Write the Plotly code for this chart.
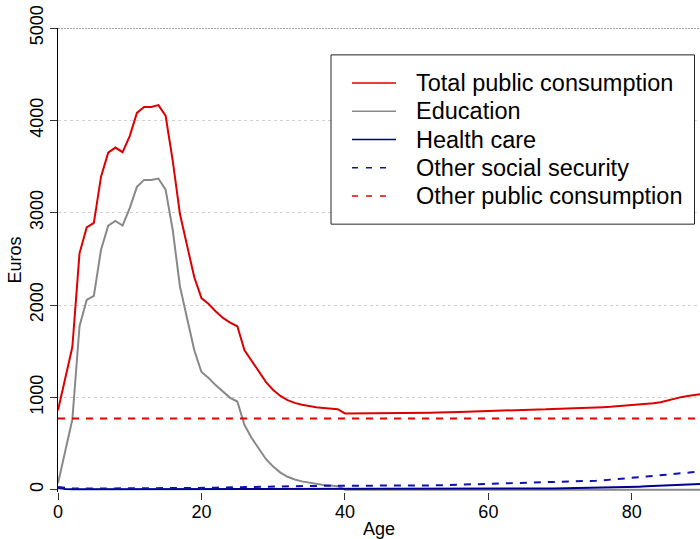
import plotly.graph_objects as go

# Per-capita public consumption by age (euros)
ages = list(range(0, 91))

total_public = [
    860, 1200, 1545, 2560, 2840, 2890, 3390, 3650, 3705, 3655,
    3830, 4080, 4145, 4145, 4165, 4050, 3560, 2985, 2630, 2300,
    2075, 2010, 1930, 1860, 1810, 1770, 1510, 1390, 1270, 1165,
    1080, 1015, 970, 940, 920, 905, 893, 885, 877, 872,
    826, 826, 826, 827, 827, 828, 830, 828, 830, 832,
    830, 832, 834, 835, 840, 845, 842, 845, 848, 851,
    854, 857, 860, 863, 865, 866, 867, 869, 870, 872,
    874, 876, 879, 882, 886, 890, 894, 898, 903, 909,
    915, 920, 926, 935, 948, 968, 988, 1005, 1018, 1030,
    1040,
]

education = [
    70, 410, 760, 1770, 2055, 2100, 2600, 2860, 2910, 2860,
    3050, 3280, 3355, 3355, 3370, 3250, 2810, 2200, 1850, 1510,
    1275, 1210, 1130, 1060, 995, 955, 700, 560, 440, 330,
    250, 185, 140, 110, 90, 75, 62, 52, 45, 38,
    0, 0, 0, 0, 0, 0, 0, 0, 0, 0,
    0, 0, 0, 0, 0, 0, 0, 0, 0, 0,
    0, 0, 0, 0, 0, 0, 0, 0, 0, 0,
    0, 0, 0, 0, 0, 0, 0, 0, 0, 0,
    0, 0, 0, 0, 0, 0, 0, 0, 0, 0,
    0,
]

health_care = [
    20, 8, 5, 5, 5, 5, 5, 5, 5, 5,
    5, 5, 5, 5, 5, 5, 5, 5, 5, 5,
    5, 5, 5, 5, 5, 5, 5, 5, 5, 5,
    5, 5, 5, 5, 5, 5, 5, 5, 5, 5,
    5, 5, 5, 5, 5, 5, 5, 5, 5, 5,
    6, 6, 6, 6, 6, 7, 7, 7, 8, 8,
    8, 9, 9, 10, 10, 10, 11, 12, 13, 14,
    15, 16, 17, 18, 19, 20, 22, 25, 27, 29,
    31, 33, 36, 40, 43, 46, 49, 52, 55, 59,
    62,
]

other_social_security = [
    30, 18, 14, 12, 12, 12, 12, 12, 12, 12,
    12, 12, 12, 12, 12, 12, 13, 14, 15, 16,
    18, 20, 22, 24, 26, 28, 30, 31, 32, 34,
    35, 36, 37, 38, 39, 40, 41, 41, 42, 42,
    43, 43, 43, 43, 43, 43, 43, 43, 43, 43,
    43, 44, 45, 47, 50, 52, 54, 56, 58, 61,
    63, 66, 68, 70, 71, 72, 74, 76, 78, 79,
    80, 83, 86, 90, 93, 97, 102, 107, 112, 120,
    128, 135, 142, 151, 160, 166, 172, 179, 186, 193,
    200,
]

other_public = [770] * len(ages)

series = [
    ("Total public consumption", total_public, "#DC0000", "solid"),
    ("Education", education, "#888888", "solid"),
    ("Health care", health_care, "#000090", "solid"),
    ("Other social security", other_social_security, "#1010B0", "7px,7px"),
    ("Other public consumption", other_public, "#E60000", "7px,7px"),
]

FONT = "Liberation Sans, Arial, sans-serif"

# plot area in pixels
W, H = 700, 539
L, R, T, B = 58, 0, 28, 45
PW, PH = W - L - R, H - T - B


def px_x(px):
    return (px - L) / PW


def px_y(py):
    return (H - B - py) / PH


fig = go.Figure()

for name, vals, color, dash in series:
    fig.add_trace(go.Scatter(
        x=ages, y=vals, name=name, mode="lines",
        line=dict(color=color, width=2, dash=dash),
        showlegend=False, hoverinfo="x+y+name",
    ))

shapes = [
    # top reference line at 5000
    dict(type="line", xref="paper", yref="y", x0=0, x1=1, y0=5000, y1=5000,
         line=dict(color="#444444", width=1, dash="2px,1px")),
    # legend frame
    dict(type="rect", xref="paper", yref="paper",
         x0=px_x(331), x1=px_x(694.5), y0=px_y(225), y1=px_y(55),
         line=dict(color="#222222", width=1), fillcolor="white", layer="above"),
]

annotations = []
row_y = [83.3, 111.7, 140, 168.3, 196.7]
for (name, vals, color, dash), ry in zip(series, row_y):
    x_end = 396 if dash == "solid" else 386
    shapes.append(dict(
        type="line", xref="paper", yref="paper",
        x0=px_x(352), x1=px_x(x_end), y0=px_y(ry), y1=px_y(ry),
        line=dict(color=color, width=1.5,
                  dash="solid" if dash == "solid" else "6px,8px"),
        layer="above",
    ))
    annotations.append(dict(
        xref="paper", yref="paper", x=px_x(414), y=px_y(ry),
        xanchor="left", yanchor="middle", text=name, showarrow=False,
        font=dict(family=FONT, size=23.5, color="black"),
    ))

fig.update_layout(
    width=W, height=H,
    margin=dict(l=L, r=R, t=T, b=B),
    paper_bgcolor="white", plot_bgcolor="white",
    font=dict(family=FONT, size=18, color="black"),
    showlegend=False,
    shapes=shapes,
    annotations=annotations,
    xaxis=dict(
        range=[0, 89.5], tickvals=[0, 20, 40, 60, 80],
        showgrid=False, zeroline=False, showline=False,
        ticks="outside", ticklen=7, tickcolor="#333333",
        ticklabelstandoff=-4,
        tickfont=dict(family=FONT, size=18),
        title=dict(text="Age", font=dict(family=FONT, size=18), standoff=5),
    ),
    yaxis=dict(
        range=[-25, 5000], tickvals=[0, 1000, 2000, 3000, 4000, 5000],
        showgrid=True, gridcolor="#D0D0D0", griddash="dot", gridwidth=1,
        zeroline=False, showline=True, linecolor="black", linewidth=1,
        ticks="outside", ticklen=7, tickcolor="#333333",
        tickangle=-90, tickfont=dict(family=FONT, size=18),
        title=dict(text="Euros", font=dict(family=FONT, size=18), standoff=0),
    ),
)

fig.write_html("out.html")
